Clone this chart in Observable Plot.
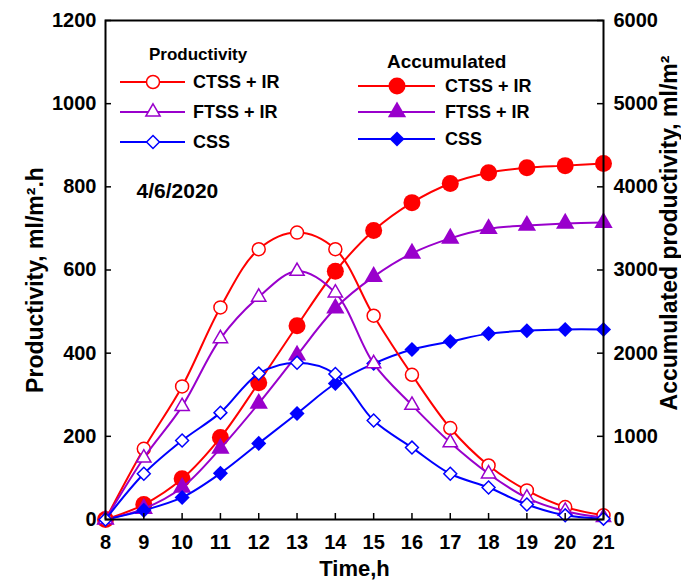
<!DOCTYPE html>
<html>
<head>
<meta charset="utf-8">
<script src="https://cdn.jsdelivr.net/npm/d3@7"></script>
<script src="https://cdn.jsdelivr.net/npm/@observablehq/plot@0.6"></script>
<style>
  html, body { margin: 0; padding: 0; background: #fff; }
  #chart { width: 681px; height: 581px; }
</style>
</head>
<body>
<div id="chart"></div>
<script>
// ---- data ----
const hours = [8, 9, 10, 11, 12, 13, 14, 15, 16, 17, 18, 19, 20, 21];
const prodCTSS = [0, 170, 320, 510, 650, 690, 650, 490, 348, 220, 130, 70, 30, 10];
const prodFTSS = [0, 148, 272, 435, 535, 597, 545, 375, 275, 185, 110, 52, 20, 5];
const prodCSS  = [0, 110, 190, 257, 351, 377, 350, 238, 173, 110, 77, 36, 10, 2];
const accCTSS  = [0, 180, 490, 985, 1645, 2330, 2985, 3475, 3810, 4040, 4170, 4230, 4255, 4280];
const accFTSS  = [0, 130, 385, 855, 1395, 1975, 2540, 2920, 3200, 3380, 3495, 3535, 3560, 3570];
const accCSS   = [0, 110, 265, 555, 915, 1275, 1635, 1875, 2045, 2140, 2235, 2270, 2285, 2285];
const seriesNames = ["CTSS + IR", "FTSS + IR", "CSS"];
const prodTicks = [0, 200, 400, 600, 800, 1000, 1200];
const accTicks = [0, 1000, 2000, 3000, 4000, 5000, 6000];
const dateLabel = "4/6/2020";
const xLabel = "Time,h";
const yLabel = "Productivity, ml/m².h";
const y2Label = "Accumulated productivity, ml/m²";
const legendTitles = ["Productivity", "Accumulated"];

// ---- styling ----
const colors = ["#ff0000", "#9900cc", "#0000ff"];
const openSymbols = [
  {symbol: "circle", r: 6.5},
  {symbol: "triangle", r: 5.3},
  {symbol: "diamond2", r: 5.8}
];
const filledSymbols = [
  {symbol: "circle", r: 8.5},
  {symbol: "triangle", r: 6.8},
  {symbol: "diamond2", r: 6.8}
];
const xMin = hours[0], xMax = hours[hours.length - 1];
const yMin = prodTicks[0], yMax = prodTicks[prodTicks.length - 1];
const ratio = accTicks[accTicks.length - 1] / yMax;
const font = "'Liberation Sans', Arial, sans-serif";

const prodSeries = [prodCTSS, prodFTSS, prodCSS];
const accSeries = [accCTSS, accFTSS, accCSS];
const rows = (vals, scale) => hours.map((h, i) => ({h, v: vals[i] / scale}));

const marks = [];
// accumulated (right axis) drawn first
accSeries.forEach((vals, k) => {
  const d = rows(vals, ratio);
  marks.push(Plot.line(d, {x: "h", y: "v", stroke: colors[k], strokeWidth: 2, curve: "catmull-rom"}));
  marks.push(Plot.dot(d, {x: "h", y: "v", symbol: filledSymbols[k].symbol, r: filledSymbols[k].r, fill: colors[k], stroke: "none"}));
});
prodSeries.forEach((vals, k) => {
  const d = rows(vals, 1);
  marks.push(Plot.line(d, {x: "h", y: "v", stroke: colors[k], strokeWidth: 2, curve: "catmull-rom"}));
  marks.push(Plot.dot(d, {x: "h", y: "v", symbol: openSymbols[k].symbol, r: openSymbols[k].r, fill: "white", stroke: colors[k], strokeWidth: 1.5}));
});

const accTickPos = accTicks.map(d => d / ratio);

const svg = Plot.plot({
  width: 681,
  height: 581,
  marginLeft: 105,
  marginRight: 78,
  marginTop: 20,
  marginBottom: 62,
  x: {domain: [xMin, xMax]},
  y: {domain: [yMin, yMax]},
  style: {fontFamily: font, fontWeight: "bold", fontSize: "20px", color: "black", background: "white", overflow: "visible"},
  marks: [
    ...marks,
    // inward tick marks
    Plot.ruleX(hours, {x: d => d, y1: yMin, y2: yMin, insetTop: -6, stroke: "black", strokeWidth: 1.5}),
    Plot.ruleY(prodTicks, {y: d => d, x1: xMin, x2: xMin, insetRight: -6, stroke: "black", strokeWidth: 1.5}),
    Plot.ruleY(accTickPos, {y: d => d, x1: xMax, x2: xMax, insetLeft: -6, stroke: "black", strokeWidth: 1.5}),
    Plot.frame({stroke: "black", strokeWidth: 2}),
    Plot.axisX({ticks: hours, tickSize: 0, tickPadding: 15, tickFormat: d => String(d), label: null, fontSize: 20}),
    Plot.axisY({ticks: prodTicks, anchor: "left", tickSize: 0, tickPadding: 9, tickFormat: d => String(d), label: null, fontSize: 20}),
    Plot.axisY(accTickPos, {anchor: "right", tickSize: 0, tickPadding: 10, tickFormat: d => String(Math.round(d * ratio)), label: null, fontSize: 20}),
    Plot.text([xLabel], {frameAnchor: "bottom", dy: 49, lineAnchor: "middle", textAnchor: "middle", fontSize: 22, ariaLabel: "xlabel"}),
    Plot.text([yLabel], {frameAnchor: "left", dx: -63, dy: 10, rotate: -90, textAnchor: "middle", lineAnchor: "bottom", fontSize: 23, ariaLabel: "ylabel"}),
    Plot.text([y2Label], {frameAnchor: "right", dx: 73, dy: -37, rotate: -90, textAnchor: "middle", lineAnchor: "bottom", fontSize: 23, ariaLabel: "y2label"}),
    Plot.text([dateLabel], {frameAnchor: "top-left", dx: 31, dy: 171, textAnchor: "start", lineAnchor: "middle", fontSize: 21})
  ]
});

const s = d3.select(svg);
s.selectAll('g[aria-label="ylabel"] text').attr("textLength", 250).attr("lengthAdjust", "spacingAndGlyphs");
s.selectAll('g[aria-label="y2label"] text').attr("textLength", 432).attr("lengthAdjust", "spacingAndGlyphs");

// ---- legend ----
const lg = s.append("g").attr("font-family", font).attr("font-weight", "bold").attr("fill", "black").attr("text-anchor", "start");
const legendCols = [
  {title: legendTitles[0], tx: 149, ty: 54, tsize: 17, x1: 120, x2: 185, mx: 153, textX: 193, ys: [82, 112, 142], sym: openSymbols, open: true},
  {title: legendTitles[1], tx: 387, ty: 61, tsize: 19, x1: 358, x2: 435, mx: 397, textX: 445, ys: [86, 112, 139], sym: filledSymbols, open: false}
];
const symMap = {circle: d3.symbolCircle, triangle: d3.symbolTriangle, diamond2: d3.symbolDiamond2};
legendCols.forEach(c => {
  lg.append("text").attr("x", c.tx).attr("y", c.ty).attr("dy", "0.35em").attr("font-size", c.tsize).attr("text-anchor", "start").text(c.title);
  seriesNames.forEach((name, k) => {
    const y = c.ys[k];
    lg.append("line").attr("x1", c.x1).attr("x2", c.x2).attr("y1", y).attr("y2", y).attr("stroke", colors[k]).attr("stroke-width", 2);
    const p = d3.symbol(symMap[c.sym[k].symbol], Math.PI * c.sym[k].r * c.sym[k].r)();
    lg.append("path").attr("d", p).attr("transform", `translate(${c.mx},${y})`)
      .attr("fill", c.open ? "white" : colors[k]).attr("stroke", c.open ? colors[k] : "none").attr("stroke-width", 1.5);
    lg.append("text").attr("x", c.textX).attr("y", y).attr("dy", "0.35em").attr("font-size", 18).attr("text-anchor", "start").text(name);
  });
});

document.getElementById("chart").appendChild(svg);
</script>
</body>
</html>
